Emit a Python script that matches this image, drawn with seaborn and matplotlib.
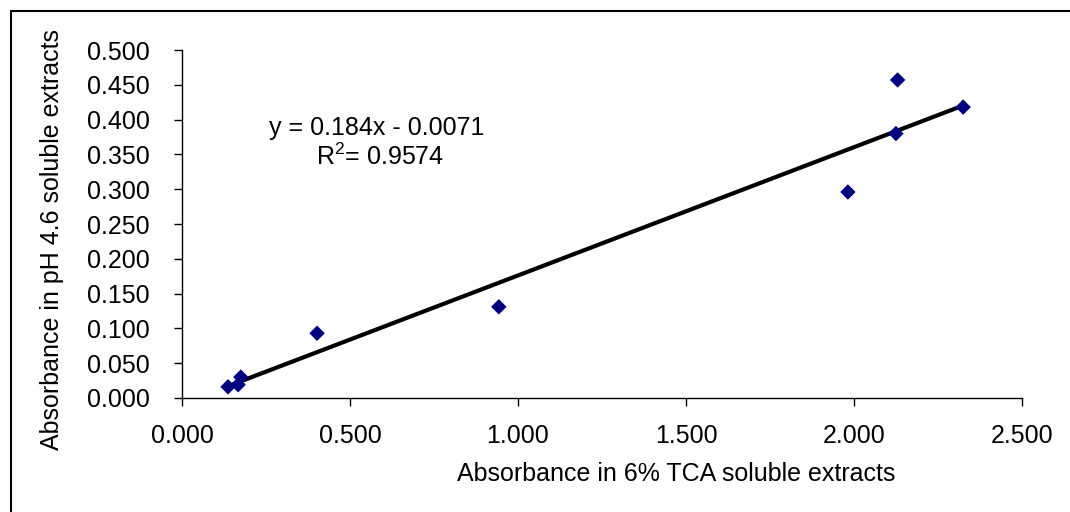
import numpy as np
import pandas as pd
import matplotlib
matplotlib.use("Agg")
import matplotlib.pyplot as plt
import seaborn as sns
from matplotlib.patches import Rectangle

# values
tca_abs = [0.137, 0.167, 0.175, 0.402, 0.943, 1.982, 2.125, 2.130, 2.325]
ph46_abs = [0.016, 0.019, 0.030, 0.093, 0.131, 0.296, 0.380, 0.457, 0.418]
x_ticks = [0.0, 0.5, 1.0, 1.5, 2.0, 2.5]
y_ticks = [0.0, 0.05, 0.10, 0.15, 0.20, 0.25, 0.30, 0.35, 0.40, 0.45, 0.50]
eq_text = "y = 0.184x - 0.0071"
r2_text = "R$^2$= 0.9574"

df = pd.DataFrame({"tca": tca_abs, "ph": ph46_abs})

sns.set_style("ticks")
plt.rcParams['font.family'] = ['Liberation Sans', 'DejaVu Sans']
plt.rcParams['mathtext.fontset'] = 'custom'
plt.rcParams['mathtext.rm'] = 'Liberation Sans'
plt.rcParams['text.color'] = 'black'

fs = 18

fig = plt.figure(figsize=(10.7, 5.12), dpi=100)
ax = fig.add_axes([0.1701, 0.2227, 0.785, 0.6796])

sns.regplot(data=df, x="tca", y="ph", ax=ax, ci=None, marker="D",
            scatter_kws={"s": 62, "color": "#000080", "alpha": 1,
                         "edgecolor": "none", "zorder": 3},
            line_kws={"color": "black", "linewidth": 3, "zorder": 2})

ax.set_xlim(0, 2.5)
ax.set_ylim(0, 0.5)
ax.set_xticks(x_ticks)
ax.set_yticks(y_ticks)
ax.set_xticklabels([f"{v:.3f}" for v in x_ticks])
ax.set_yticklabels([f"{v:.3f}" for v in y_ticks])
ax.tick_params(axis="both", labelsize=fs, length=6, width=1, color="black",
               direction="out", labelcolor="black")
ax.tick_params(axis="y", pad=17)
ax.tick_params(axis="x", pad=13)
for side in ["top", "right"]:
    ax.spines[side].set_visible(False)
for side in ["left", "bottom"]:
    ax.spines[side].set_color("black")
    ax.spines[side].set_linewidth(1)

ax.set_xlabel("Absorbance in 6% TCA soluble extracts", fontsize=fs, color="black")
ax.set_ylabel("Absorbance in pH 4.6 soluble extracts", fontsize=fs, color="black")
ax.xaxis.set_label_coords(0.588, -0.185)
ax.yaxis.set_label_coords(-0.141, 0.455)

ax.text(0.579, 0.378, eq_text, fontsize=fs, ha="center", va="baseline", color="black")
ax.text(0.589, 0.335, r2_text, fontsize=fs, ha="center", va="baseline", color="black")

fig.patches.append(Rectangle((0.0103, -0.2), 1.2, 0.9785 + 0.2, transform=fig.transFigure,
                             fill=False, edgecolor="black", linewidth=1.5))

fig.savefig("out.png", dpi=100)
